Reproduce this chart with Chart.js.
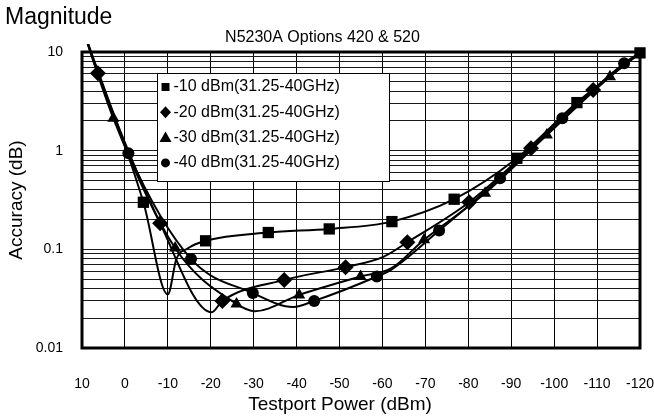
<!DOCTYPE html>
<html>
<head>
<meta charset="utf-8">
<script src="https://cdn.jsdelivr.net/npm/chart.js@4.4.1/dist/chart.umd.min.js"></script>
<style>
  html, body { margin: 0; padding: 0; background: #fff; }
  #wrap { width: 654px; height: 419px; }
</style>
</head>
<body>
<div id="wrap"><canvas id="c" width="654" height="419"></canvas></div>
<script>
// ---------------- DATA ----------------
const mainTitle = 'Magnitude';
const subTitle = 'N5230A Options 420 & 520';
const yAxisTitle = 'Accuracy (dB)';
const xAxisTitle = 'Testport Power (dBm)';

const xTickValues = [10, 0, -10, -20, -30, -40, -50, -60, -70, -80, -90, -100, -110, -120];
const xTickLabels = ['10', '0', '-10', '-20', '-30', '-40', '-50', '-60', '-70', '-80', '-90', '-100', '-110', '-120'];
const yTickLabels = ['0.01', '0.1', '1', '10'];

const seriesNames = ['-10 dBm(31.25-40GHz)', '-20 dBm(31.25-40GHz)', '-30 dBm(31.25-40GHz)', '-40 dBm(31.25-40GHz)'];

// -10 dBm (squares)
const sqMarkP = [10, -4.3, -18.8, -33.4, -47.6, -62.2, -76.7, -91.3, -105.3, -120];
const sqMarkV = [18, 0.30, 0.122, 0.148, 0.161, 0.191, 0.322, 0.837, 3.07, 9.8];
const sqLineP = [-10, -12, -14.6];
const sqLineV = [0.035, 0.08, 0.102];

// -20 dBm (diamonds)
const diMarkP = [6.3, -8.2, -22.7, -37.1, -51.4, -65.8, -80.2, -94.6, -109.1];
const diMarkV = [6.1, 0.184, 0.030, 0.049, 0.066, 0.118, 0.30, 1.06, 4.12];
const diLineP = [10, -20.2, -60.2, -120];
const diLineV = [18, 0.023, 0.084, 9.8];

// -30 dBm (triangles)
const trMarkP = [2.7, -11.7, -26, -40.6, -54.9, -69.7, -83.9, -98.3, -113];
const trMarkV = [2.13, 0.103, 0.028, 0.0345, 0.053, 0.125, 0.37, 1.44, 5.6];
const trLineP = [10, -30.3, -62, -120];
const trLineV = [18, 0.0236, 0.064, 9.8];

// -40 dBm (circles)
const ciMarkP = [-0.8, -15.4, -29.8, -44.1, -58.7, -73.2, -87.4, -101.9, -116.3];
const ciMarkV = [0.94, 0.080, 0.036, 0.030, 0.053, 0.155, 0.525, 2.13, 7.68];
const ciLineP = [10, -39.2, -62, -120];
const ciLineV = [18, 0.026, 0.062, 9.8];

// ---------------- BUILD ----------------
const FONT = '"Liberation Sans", Arial, sans-serif';
function pts(p, v) { return p.map((x, i) => ({ x: x, y: v[i] })); }
function merged(mp, mv, lp, lv) { return pts(mp, mv).concat(pts(lp, lv)).sort((a, b) => b.x - a.x); }

const series = [
  { mp: sqMarkP, mv: sqMarkV, lp: sqLineP, lv: sqLineV, style: 'rect', r: 8 },
  { mp: diMarkP, mv: diMarkV, lp: diLineP, lv: diLineV, style: 'rectRot', r: 8 },
  { mp: trMarkP, mv: trMarkV, lp: trLineP, lv: trLineV, style: 'triangle', r: 7 },
  { mp: ciMarkP, mv: ciMarkV, lp: ciLineP, lv: ciLineV, style: 'circle', r: 6 }
];
const clipArea = { left: 0, top: 8, right: 10, bottom: 0 };
const datasets = [];
series.forEach((s, i) => {
  datasets.push({
    label: seriesNames[i] + ' line',
    data: merged(s.mp, s.mv, s.lp, s.lv),
    borderColor: '#000', borderWidth: 2, pointRadius: 0, fill: false,
    cubicInterpolationMode: 'monotone', clip: clipArea
  });
  datasets.push({
    label: seriesNames[i],
    data: pts(s.mp, s.mv),
    showLine: false, pointStyle: s.style, pointRadius: s.r,
    backgroundColor: '#000', borderColor: '#000', pointBorderWidth: 0, clip: clipArea
  });
});

function drawMarker(ctx, style, x, y, s) {
  ctx.beginPath();
  if (style === 'rect') { ctx.rect(x - s / 2, y - s / 2, s, s); }
  else if (style === 'rectRot') { ctx.moveTo(x, y - s * 0.6); ctx.lineTo(x + s * 0.55, y); ctx.lineTo(x, y + s * 0.6); ctx.lineTo(x - s * 0.55, y); ctx.closePath(); }
  else if (style === 'triangle') { ctx.moveTo(x, y - s * 0.6); ctx.lineTo(x + s * 0.6, y + s * 0.45); ctx.lineTo(x - s * 0.6, y + s * 0.45); ctx.closePath(); }
  else { ctx.arc(x, y, s / 2, 0, Math.PI * 2); }
  ctx.fill();
}

const decor = {
  id: 'decor',
  beforeDatasetsDraw(chart) {
    const { ctx, chartArea: a } = chart;
    ctx.save();
    ctx.strokeStyle = '#000';
    ctx.lineWidth = 3;
    ctx.strokeRect(a.left, a.top, a.right - a.left, a.bottom - a.top);
    ctx.restore();
  },
  afterDatasetsDraw(chart) {
    const { ctx, chartArea: a } = chart;
    ctx.save();
    const bx = a.left + 75, by = a.top + 21, bw = 232, bh = 108;
    ctx.fillStyle = '#fff';
    ctx.fillRect(bx, by, bw, bh);
    ctx.strokeStyle = '#000';
    ctx.lineWidth = 1;
    ctx.strokeRect(Math.round(bx) + 0.5, Math.round(by) + 0.5, bw, bh);
    ctx.fillStyle = '#000';
    ctx.font = '16px ' + FONT;
    ctx.textBaseline = 'middle';
    ctx.textAlign = 'left';
    const sizes = [8, 10, 10, 9];
    seriesNames.forEach((name, i) => {
      const y = by + 14 + i * 25.3;
      drawMarker(ctx, series[i].style, bx + 8.5, y, sizes[i]);
      ctx.fillText(name, bx + 16.5, y);
    });
    // x axis title
    ctx.font = '19px ' + FONT;
    ctx.textAlign = 'center';
    ctx.fillText(xAxisTitle, 340, 405);
    ctx.restore();
  }
};

new Chart(document.getElementById('c'), {
  type: 'line',
  data: { datasets: datasets },
  options: {
    responsive: false,
    animation: false,
    devicePixelRatio: 1,
    layout: { padding: { left: 5, right: 14, top: 6, bottom: 0 } },
    plugins: {
      legend: { display: false },
      tooltip: { enabled: false },
      title: {
        display: true, text: mainTitle, align: 'start', color: '#000',
        font: { family: FONT, size: 23, weight: 'normal', lineHeight: 1.0 },
        padding: { top: 0, bottom: 0 }
      },
      subtitle: {
        display: true, text: subTitle, align: 'center', color: '#000',
        font: { family: FONT, size: 16, weight: 'normal', lineHeight: 1.0 },
        padding: { top: 0.5, bottom: 6.5 }
      }
    },
    scales: {
      x: {
        type: 'linear', min: -120, max: 10, reverse: true,
        afterFit: s => { s.height = 71; s.paddingLeft = 0; s.paddingRight = 0; },
        border: { display: false },
        grid: { color: '#000', lineWidth: 1, drawTicks: false },
        ticks: {
          stepSize: 10, autoSkip: false, maxRotation: 0, padding: 28, color: '#000',
          font: { family: FONT, size: 14 },
          callback: v => { const k = xTickValues.indexOf(v); return k >= 0 ? xTickLabels[k] : ''; }
        },
        title: { display: false }
      },
      y: {
        type: 'logarithmic', min: 0.01, max: 10,
        afterFit: s => { s.width = 77; s.paddingTop = 0; s.paddingBottom = 0; },
        afterBuildTicks: s => {
          const t = [];
          for (let e = -2; e <= 0; e++) for (let m = 1; m <= 9; m++) t.push({ value: Number((m * Math.pow(10, e)).toPrecision(6)) });
          t.push({ value: 10 });
          s.ticks = t;
        },
        border: { display: false },
        grid: { color: '#1a1a1a', lineWidth: 1, drawTicks: false },
        ticks: {
          autoSkip: false, padding: 19, color: '#000',
          font: { family: FONT, size: 14 },
          callback: v => {
            const lg = Math.log10(v), r = Math.round(lg);
            return Math.abs(lg - r) < 1e-6 ? yTickLabels[r + 2] : '';
          }
        },
        title: {
          display: true, text: yAxisTitle, color: '#000',
          font: { family: FONT, size: 19 }, padding: { top: 0, bottom: 0 }
        }
      }
    }
  },
  plugins: [decor]
});
</script>
</body>
</html>
